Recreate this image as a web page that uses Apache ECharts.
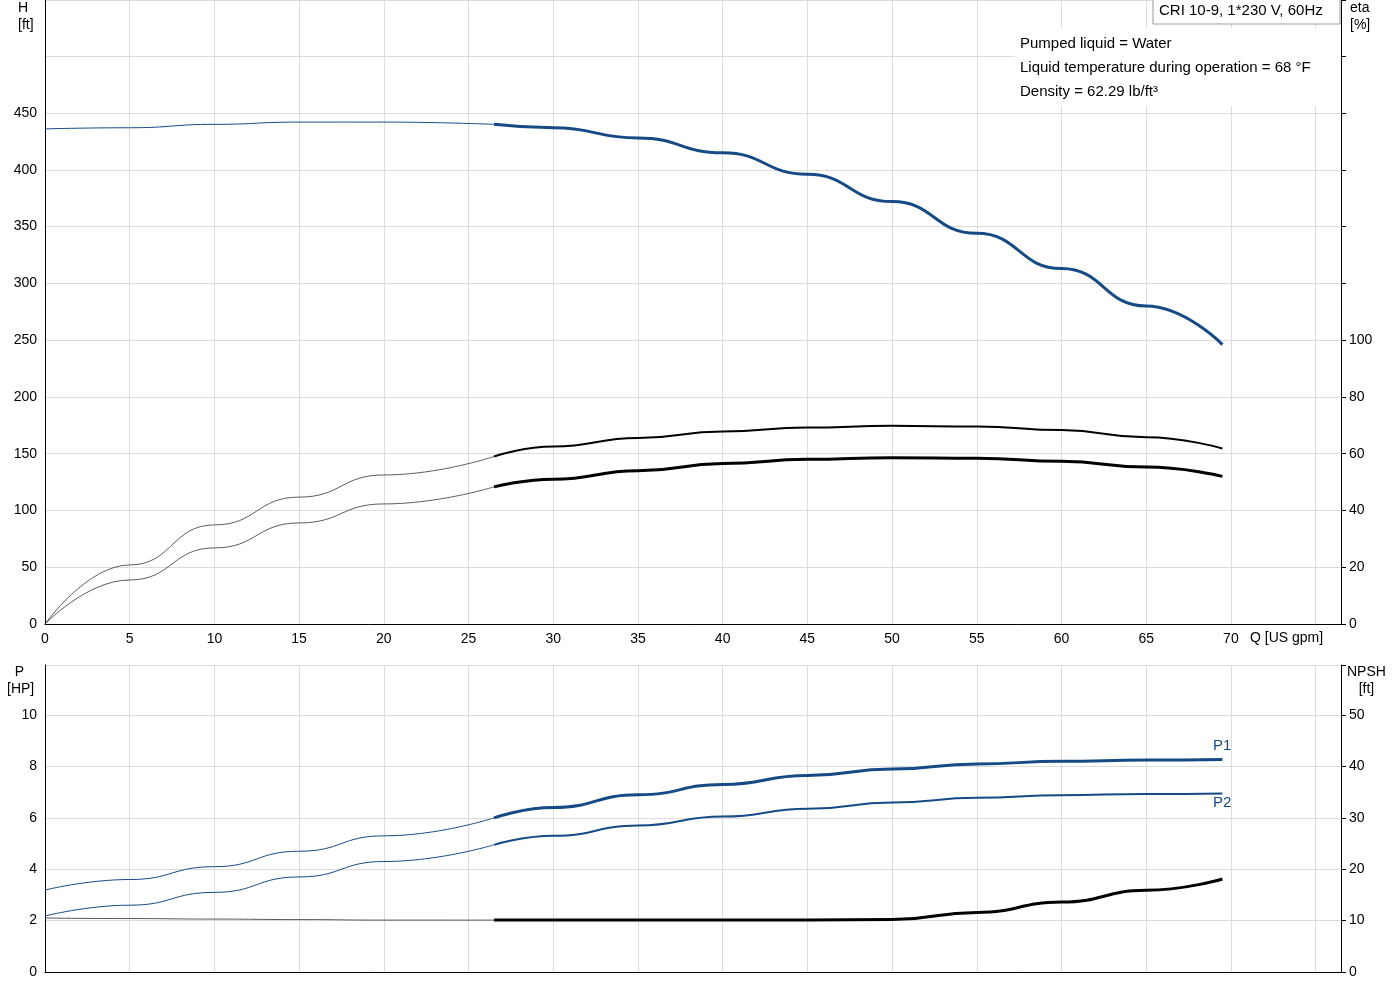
<!DOCTYPE html><html><head><meta charset="utf-8">
<script src="https://cdn.jsdelivr.net/npm/echarts@6/dist/echarts.min.js"></script>
<style>html,body{margin:0;padding:0;background:#fff}#c{width:1400px;height:1000px}</style></head><body><div id="c"></div>
<script>
// Data
const qThin = [0,5,10,15,20,26.5];
const qThick = [26.5,30,35,40,45,50,55,60,65,69.5];
const hThin = [436,437,440,442,442,440];
const hThick = [440,437,428,415,396,372,344,313,280,246];
const eta1Thin = [0,20.8,34.9,44.7,52.5,59];
const eta1Thick = [59,62.5,65.5,67.8,69.2,69.8,69.6,68.3,65.8,61.8];
const eta2Thin = [0,15.5,26.8,35.6,42.3,48.3];
const eta2Thick = [48.3,51,54,56.5,58,58.6,58.4,57.3,55.3,52];
const p1Thin = [3.19,3.6,4.1,4.7,5.3,6.0];
const p1Thick = [6.0,6.4,6.9,7.3,7.65,7.9,8.1,8.2,8.25,8.27];
const p2Thin = [2.18,2.6,3.1,3.7,4.3,4.95];
const p2Thick = [4.95,5.3,5.7,6.05,6.35,6.6,6.78,6.88,6.93,6.95];
const npshThin = [10.5,10.4,10.3,10.2,10.1,10.1];
const npshThick = [10.1,10.1,10.1,10.1,10.1,10.2,11.6,13.6,15.9,18.1];
const xTicksMax = 70;

const pair = (xs, ys) => xs.map((x,i)=>[x,ys[i]]);
const F = 'Liberation Sans';
const blue = '#154a85';
const gridLine = {show:true,lineStyle:{color:'#dcdcdc',width:1}};
const axLine = {show:true,lineStyle:{color:'#000',width:1}};
const lab = {color:'#000',fontFamily:F,fontSize:14};
function xAx(gi, showLabels){
  return {type:'value',gridIndex:gi,min:0,max:76.5,interval:5,axisLine:axLine,axisTick:{show:false},
    splitLine:gridLine,axisLabel:showLabels?{...lab,formatter:v=>v<=xTicksMax?v:''}:{show:false}};
}
function line(name,xi,yi,data,color,width){
  return {name,type:'line',xAxisIndex:xi,yAxisIndex:yi,data,smooth:0.5,smoothMonotone:'x',symbol:'none',
    lineStyle:{color,width},z:3,animation:false};
}
const chart = echarts.init(document.getElementById('c'));
chart.setOption({
  animation:false,
  grid:[{left:45,right:59,top:0,height:624},{left:45,right:59,top:665,height:307}],
  xAxis:[xAx(0,true),xAx(1,false)],
  yAxis:[
    {type:'value',gridIndex:0,min:0,max:549.5,interval:50,axisLine:axLine,axisTick:{show:false},splitLine:gridLine,
      axisLabel:{...lab,formatter:v=>v<=450?v:''}},
    {type:'value',gridIndex:0,position:'right',min:0,max:219.8,interval:20,axisLine:axLine,axisTick:{show:true,length:5,lineStyle:{color:'#000'}},splitLine:{show:false},
      axisLabel:{...lab,formatter:v=>v<=100?v:''}},
    {type:'value',gridIndex:1,min:0,max:11.95,interval:2,axisLine:axLine,axisTick:{show:false},splitLine:gridLine,
      axisLabel:{...lab,formatter:v=>v<=10?v:''}},
    {type:'value',gridIndex:1,position:'right',min:0,max:59.75,interval:10,axisLine:axLine,axisTick:{show:true,length:5,lineStyle:{color:'#000'}},splitLine:{show:false},
      axisLabel:{...lab,formatter:v=>v<=50?v:''}}
  ],
  series:[
    line('H',0,0,pair(qThin,hThin),blue,1),
    line('H',0,0,pair(qThick,hThick),blue,3),
    line('eta1',0,1,pair(qThin,eta1Thin),'#333',0.8),
    line('eta1',0,1,pair(qThick,eta1Thick),'#000',2),
    line('eta2',0,1,pair(qThin,eta2Thin),'#333',0.8),
    line('eta2',0,1,pair(qThick,eta2Thick),'#000',3),
    line('P1',1,2,pair(qThin,p1Thin),blue,1),
    line('P1',1,2,pair(qThick,p1Thick),blue,3),
    line('P2',1,2,pair(qThin,p2Thin),blue,1),
    line('P2',1,2,pair(qThick,p2Thick),blue,2),
    line('NPSH',1,3,pair(qThin,npshThin),'#555',1),
    line('NPSH',1,3,pair(qThick,npshThick),'#000',3)
  ],
  graphic:[
    {type:'text',left:18,top:0,z:100,style:{text:'H\n[ft]',font:'14px '+F,fill:'#000',lineHeight:17}},
    {type:'text',left:1350,top:0,z:100,style:{text:'eta\n[%]',font:'14px '+F,fill:'#000',lineHeight:17}},
    {type:'text',left:1250,top:631,z:100,style:{text:'Q [US gpm]',font:'14px '+F,fill:'#000'}},
    {type:'text',left:7,top:664,z:100,style:{text:'  P\n[HP]',font:'14px '+F,fill:'#000',lineHeight:17}},
    {type:'text',left:1347,top:664,z:100,style:{text:'NPSH\n   [ft]',font:'14px '+F,fill:'#000',lineHeight:17}},
    {type:'rect',z:99,shape:{x:1015,y:28,width:325,height:78},style:{fill:'#fff',lineWidth:0}},
    {type:'rect',z:100,shape:{x:1153,y:-1,width:187,height:25},style:{fill:'#fff',stroke:'#999',lineWidth:1}},
    {type:'text',left:1159,top:3,z:101,style:{text:'CRI 10-9, 1*230 V, 60Hz',font:'15px '+F,fill:'#000'}},
    {type:'text',left:1020,top:36,z:101,style:{text:'Pumped liquid = Water',font:'15px '+F,fill:'#000'}},
    {type:'text',left:1020,top:60,z:101,style:{text:'Liquid temperature during operation = 68 °F',font:'15px '+F,fill:'#000'}},
    {type:'text',left:1020,top:84,z:101,style:{text:'Density = 62.29 lb/ft³',font:'15px '+F,fill:'#000'}},
    {type:'text',left:1213,top:738,z:100,style:{text:'P1',font:'15px '+F,fill:blue}},
    {type:'text',left:1213,top:795,z:100,style:{text:'P2',font:'15px '+F,fill:blue}}
  ]
});
</script></body></html>
